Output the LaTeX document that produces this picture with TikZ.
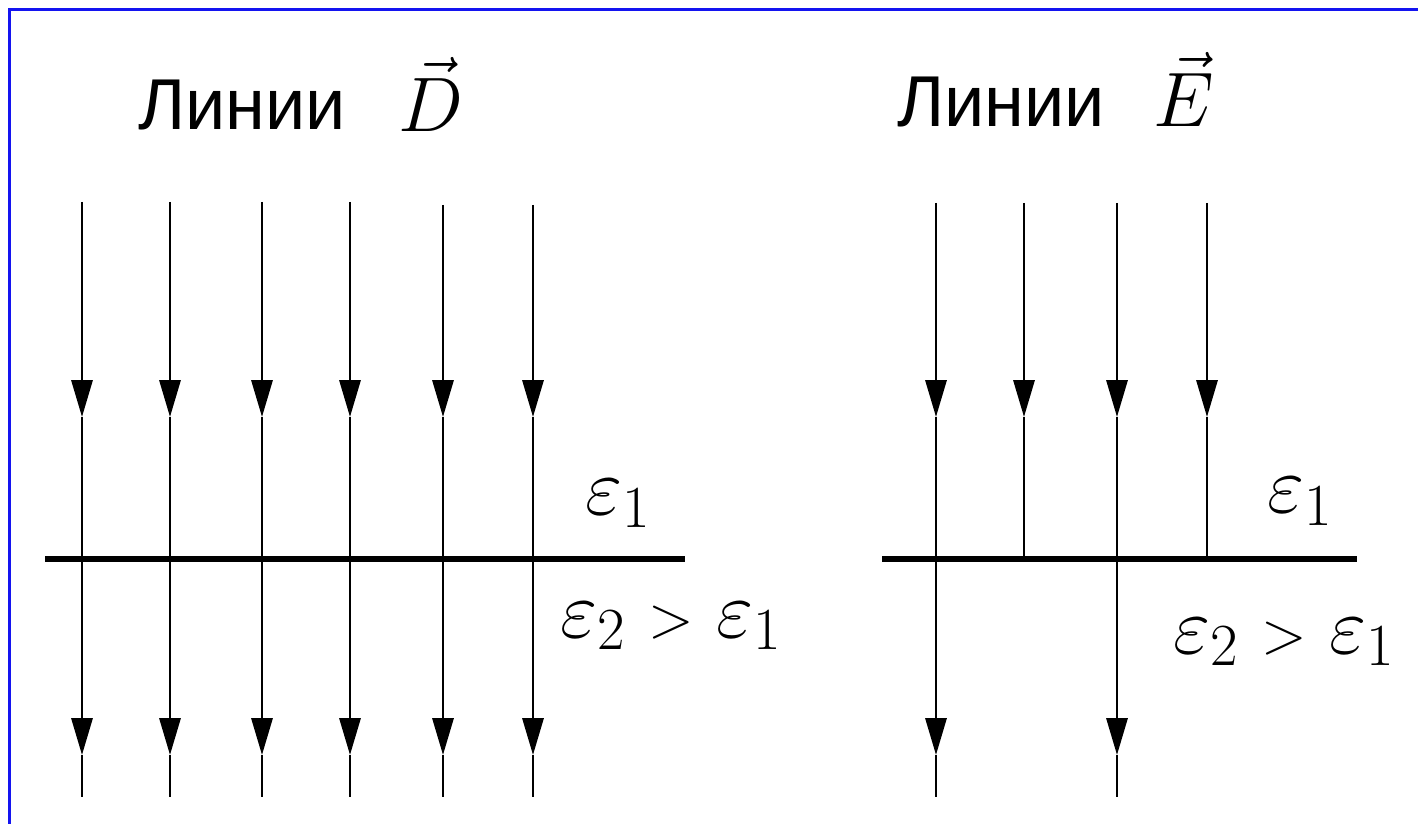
\documentclass[tikz,border=0pt]{standalone}
\usepackage{fix-cm}
\usepackage{fontspec}
\newfontfamily\titlefont{Liberation Sans}
\usetikzlibrary{arrows.meta}
\DeclareMathSizes{46}{46}{34}{28}
\DeclareMathSizes{44}{44}{32}{26}
\definecolor{frameblue}{HTML}{1414F0}
\newcommand{\gtsign}{\mathrel{\scriptstyle>}}
\tikzset{
  fline/.style={line width=1.6pt,color=black},
  ftip/.style={fline,-{Triangle[length=21pt,width=12pt]}},
  bound/.style={line width=3.4pt,color=black},
  ttl/.style={anchor=base west,inner sep=0pt,font=\titlefont\fontsize{41}{48}\selectfont},
  vlab/.style={anchor=base west,inner sep=0pt,font=\fontsize{44}{52}\selectfont},
  elab/.style={anchor=base west,inner sep=0pt,font=\fontsize{46}{54}\selectfont},
}
\begin{document}
\begin{tikzpicture}[x=0.02cm,y=-0.02cm]
  \useasboundingbox (0,0) rectangle (1418,824);
  \draw[frameblue,line width=1.7pt] (9.5,824)--(9.5,9.5)--(1418,9.5);
  % titles
  \node[ttl] (tD) at (138,130){Линии}; \node[vlab] (vD) at (398,132){$\vec{D}$};
  \node[ttl] (tE) at (897,127){Линии}; \node[vlab] (vE) at (1153,127){$\vec{E}$};
  % boundaries
  \draw[bound] (45,559)--(685,559);
  \draw[bound] (882,559)--(1357,559);
  % lines of D
  \draw[ftip] (82,202)--(82,417); \draw[ftip] (82,417)--(82,755); \draw[fline] (82,755)--(82,797);
  \draw[ftip] (170,202)--(170,417); \draw[ftip] (170,417)--(170,755); \draw[fline] (170,755)--(170,797);
  \draw[ftip] (262,202)--(262,417); \draw[ftip] (262,417)--(262,755); \draw[fline] (262,755)--(262,797);
  \draw[ftip] (350,202)--(350,417); \draw[ftip] (350,417)--(350,755); \draw[fline] (350,755)--(350,797);
  \draw[ftip] (443,205)--(443,417); \draw[ftip] (443,417)--(443,755); \draw[fline] (443,755)--(443,797);
  \draw[ftip] (533,205)--(533,417); \draw[ftip] (533,417)--(533,755); \draw[fline] (533,755)--(533,797);
  % lines of E
  \draw[ftip] (936,203)--(936,417); \draw[ftip] (936,417)--(936,755); \draw[fline] (936,755)--(936,797);
  \draw[ftip] (1024,203)--(1024,417); \draw[fline] (1024,417)--(1024,559);
  \draw[ftip] (1117,203)--(1117,417); \draw[ftip] (1117,417)--(1117,755); \draw[fline] (1117,755)--(1117,797);
  \draw[ftip] (1207,203)--(1207,417); \draw[fline] (1207,417)--(1207,559);
  % permittivities
  \node[elab] (e1L) at (585,515){$\varepsilon_1$};
  \node[elab] (e2L) at (560,637){$\varepsilon_2\gtsign\varepsilon_1$};
  \node[elab] (e1R) at (1267,513){$\varepsilon_1$};
  \node[elab] (e2R) at (1173,653){$\varepsilon_2\gtsign\varepsilon_1$};
\end{tikzpicture}
\end{document}
